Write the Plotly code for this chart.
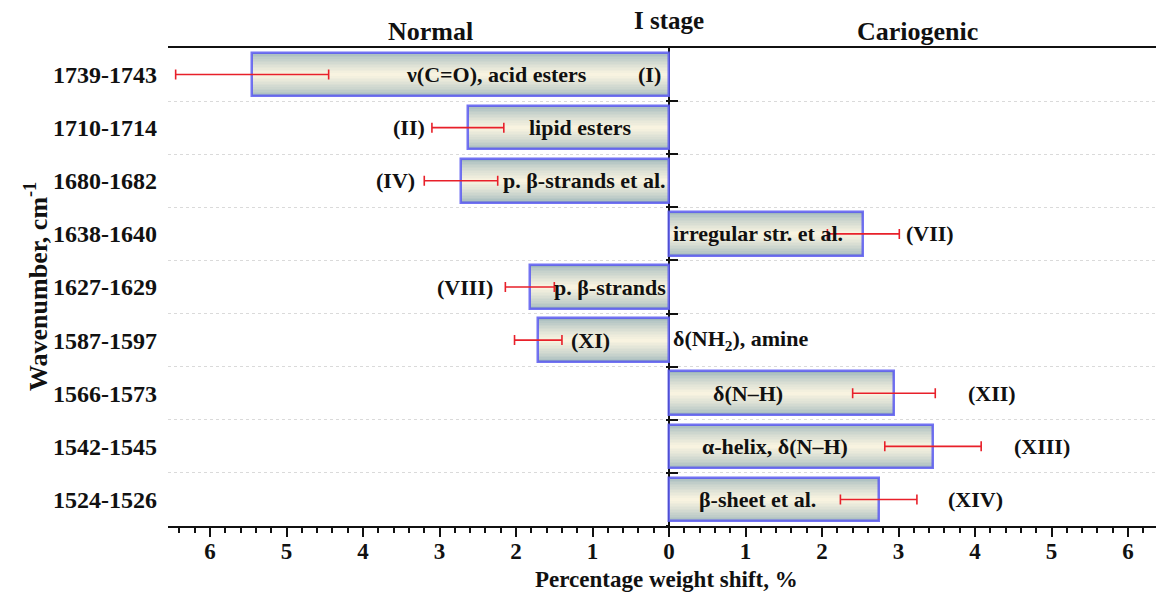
import plotly.graph_objects as go

# ---------------- data ----------------
categories = ["1739-1743", "1710-1714", "1680-1682", "1638-1640", "1627-1629",
              "1587-1597", "1566-1573", "1542-1545", "1524-1526"]
# signed shift: negative = Normal side (left), positive = Cariogenic side (right)
shift = [-5.45, -2.63, -2.72, 2.54, -1.82, -1.71, 2.94, 3.45, 2.74]
shift_err = [1.00, 0.47, 0.48, 0.47, 0.32, 0.31, 0.54, 0.63, 0.50]

band_labels = ["ν(C=O), acid esters", "lipid esters", "p. β-strands et al.",
               "irregular str. et al.", "p. β-strands", "δ(NH<sub>2</sub>), amine",
               "δ(N–H)", "α-helix, δ(N–H)", "β-sheet et al."]
band_label_x = [-2.25, -1.16, -0.02, 0.03, -0.02, 0.03, 1.03, 1.39, 1.15]
band_label_anchor = ["center", "center", "right", "left", "right", "left",
                     "center", "center", "center"]

roman = ["(I)", "(II)", "(IV)", "(VII)", "(VIII)", "(XI)", "(XII)", "(XIII)", "(XIV)"]
roman_x = [-0.25, -3.40, -3.57, 3.41, -2.67, -1.03, 4.22, 4.88, 4.00]

x_ticks = [-6, -5, -4, -3, -2, -1, 0, 1, 2, 3, 4, 5, 6]
x_ticktext = [str(abs(v)) for v in x_ticks]

# --------------- styling ---------------
FONT = "Liberation Serif"
edge_rgb = (160, 184, 188)
center_rgb = (248, 243, 224)
BAR_W = 0.82
N_LAYERS = 14
OFF = 8  # page body margin
W, H = 1164 - OFF, 598 - OFF
ML, MR, MT = 168 - OFF, 0, 47.5 - OFF
MB = H - (526 - OFF)
plot_h = H - MT - MB
plot_w = W - ML - MR

ypos = list(range(len(categories)))

fig = go.Figure()

# gradient bars built from overlaid bars of decreasing thickness
for k in range(N_LAYERS):
    t = (k / (N_LAYERS - 1)) ** 0.7
    c = tuple(int(round(edge_rgb[i] + (center_rgb[i] - edge_rgb[i]) * t)) for i in range(3))
    fig.add_trace(go.Bar(
        x=shift, y=ypos, orientation="h",
        width=BAR_W * (1 - k / N_LAYERS),
        marker=dict(color=f"rgb{c}", line=dict(width=0)),
        hoverinfo="skip", showlegend=False,
    ))
# border
fig.add_trace(go.Bar(
    x=shift, y=ypos, orientation="h", width=BAR_W,
    marker=dict(color="rgba(0,0,0,0)", line=dict(color="rgba(90,90,240,0.85)", width=2.5)),
    hoverinfo="skip", showlegend=False,
))
# error bars
fig.add_trace(go.Scatter(
    x=shift, y=ypos, mode="markers",
    marker=dict(size=1, opacity=0),
    error_x=dict(type="data", array=shift_err, color="#e8202a", thickness=1.6, width=5),
    hoverinfo="skip", showlegend=False,
))

# secondary y axes for zero-line ticks & dashed separators
xmin, xmax = -6.55, 6.47
zero_pos = (0 - xmin) / (xmax - xmin)
boundaries = [i + 0.5 for i in range(len(categories))]
fig.add_trace(go.Scatter(x=[None], y=[None], yaxis="y2", showlegend=False))
fig.add_trace(go.Scatter(x=[None], y=[None], yaxis="y3", showlegend=False))

fig.update_layout(
    width=W, height=H,
    margin=dict(l=ML, r=MR, t=MT, b=MB, autoexpand=False),
    paper_bgcolor="white", plot_bgcolor="white",
    barmode="overlay", bargap=0,
    font=dict(family=FONT, color="#111", size=20),
    xaxis=dict(
        range=[xmin, xmax], tickvals=x_ticks, ticktext=x_ticktext,
        showgrid=False, zeroline=True, zerolinecolor="#111", zerolinewidth=2.2,
        showline=True, linecolor="#111", linewidth=2.2, mirror=True,
        ticks="outside", ticklen=9, tickwidth=2, tickcolor="#111",
        minor=dict(dtick=0.2, ticks="outside", ticklen=5, tickwidth=1.5, tickcolor="#111"),
        tickfont=dict(family=FONT, size=23, color="#111", weight="bold"),
        ticklabelstandoff=-6,
    ),
    yaxis=dict(
        range=[8.5, -0.5], tickvals=ypos, ticktext=categories,
        showgrid=False, zeroline=False, showline=False, ticks="",
        ticklabelstandoff=10,
        tickfont=dict(family=FONT, size=24, color="#111", weight="bold"),
    ),
    yaxis2=dict(
        range=[8.5, -0.5], overlaying="y", anchor="free", position=zero_pos,
        side="left", tickvals=boundaries, showticklabels=False,
        ticks="inside", ticklen=8, tickwidth=2, tickcolor="#111",
        showgrid=True, gridcolor="#dadada", griddash="3px,3px", gridwidth=1,
        zeroline=False, showline=False,
    ),
    yaxis3=dict(
        range=[8.5, -0.5], overlaying="y", anchor="free", position=zero_pos,
        side="left", tickvals=boundaries, showticklabels=False,
        ticks="outside", ticklen=3, tickwidth=2, tickcolor="#111",
        showgrid=False, zeroline=False, showline=False,
    ),
)


def py(pix_y):
    """screenshot pixel row -> paper y"""
    return 1 + (MT - (pix_y - OFF)) / plot_h


def px(pix_x):
    """screenshot pixel column -> paper x"""
    return ((pix_x - OFF) - ML) / plot_w


ann = []
for i in range(len(categories)):
    ann.append(dict(x=band_label_x[i], y=ypos[i], xref="x", yref="y",
                    text=f"<b>{band_labels[i]}</b>", showarrow=False,
                    xanchor=band_label_anchor[i], yanchor="middle",
                    font=dict(family=FONT, size=22, color="#111")))
    ann.append(dict(x=roman_x[i], y=ypos[i], xref="x", yref="y",
                    text=f"<b>{roman[i]}</b>", showarrow=False,
                    xanchor="center", yanchor="middle",
                    font=dict(family=FONT, size=22, color="#111")))

ann += [
    dict(x=-3.12, y=py(31), xref="x", yref="paper", yanchor="middle", text="<b>Normal</b>",
         showarrow=False, font=dict(family=FONT, size=26, color="#111")),
    dict(x=3.25, y=py(31), xref="x", yref="paper", yanchor="middle", text="<b>Cariogenic</b>",
         showarrow=False, font=dict(family=FONT, size=26, color="#111")),
    dict(x=0.0, y=py(20), xref="x", yref="paper", yanchor="middle", text="<b>I stage</b>",
         showarrow=False, font=dict(family=FONT, size=25, color="#111")),
    dict(x=0.5, y=py(580), xref="paper", yref="paper", yanchor="middle",
         text="<b>Percentage weight shift, %</b>",
         showarrow=False, font=dict(family=FONT, size=23, color="#111")),
    dict(x=px(36), y=0.5, xref="paper", yref="paper",
         xanchor="center", yanchor="middle",
         text="<b>Wavenumber, cm<sup>-1</sup></b>",
         textangle=-90, showarrow=False, font=dict(family=FONT, size=26, color="#111")),
]
fig.update_layout(annotations=ann)

fig.write_html("out.html")
